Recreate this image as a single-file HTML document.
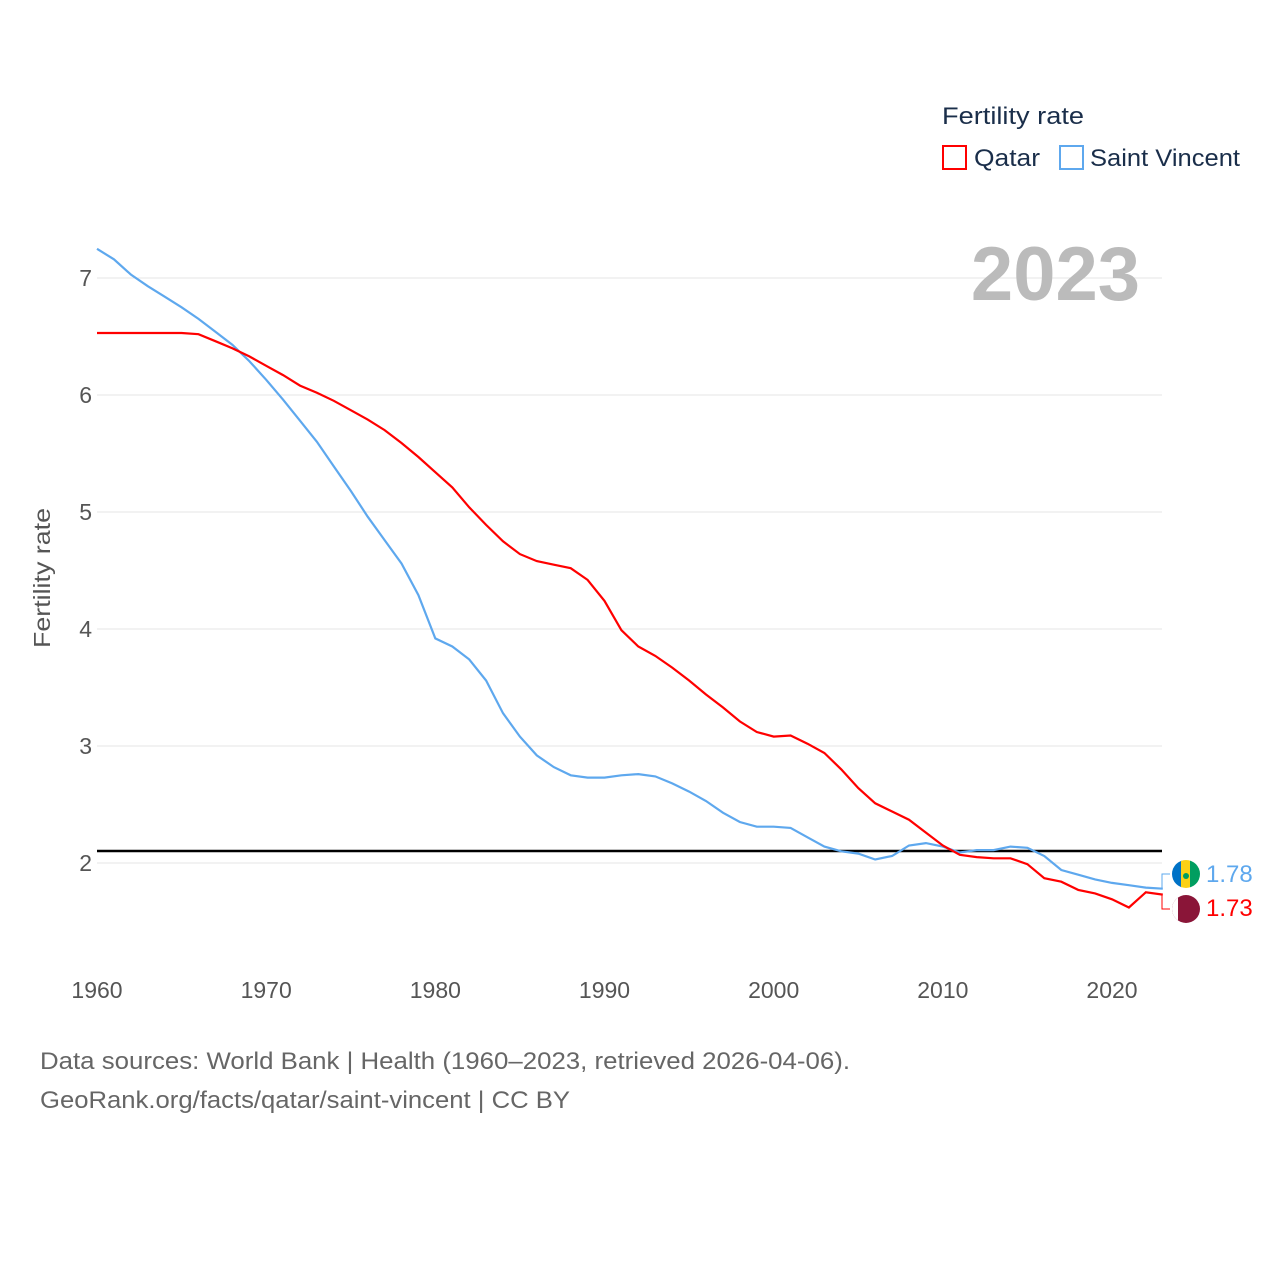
<!DOCTYPE html>
<html><head><meta charset="utf-8"><style>
body{margin:0;background:#fff;width:1280px;height:1280px;overflow:hidden;font-family:"Liberation Sans",sans-serif}
</style></head><body>
<svg width="1280" height="1280">
<g id="grid"></g>
<g id="yt" font-size="23" fill="#555" text-anchor="end"></g>
<g id="xt" font-size="23" fill="#555" text-anchor="middle"></g>
<text transform="translate(50,578) rotate(-90)" text-anchor="middle" font-size="23" fill="#555" textLength="140" lengthAdjust="spacingAndGlyphs">Fertility rate</text>
<text x="1140" y="300" text-anchor="end" font-size="76" font-weight="bold" fill="#bbb">2023</text>
<line x1="97" x2="1162" y1="851" y2="851" stroke="#000" stroke-width="2.5"/>
<path id="sv" fill="none" stroke="#5ea8ee" stroke-width="2.2"/>
<path id="qa" fill="none" stroke="#f00" stroke-width="2.2"/>
<text x="942" y="124" font-size="24" fill="#1a2e4a" textLength="142" lengthAdjust="spacingAndGlyphs">Fertility rate</text>
<rect x="943" y="146" width="23" height="23" fill="none" stroke="#f00" stroke-width="2"/>
<text x="974" y="166" font-size="24" fill="#1a2e4a" textLength="66" lengthAdjust="spacingAndGlyphs">Qatar</text>
<rect x="1060" y="146" width="23" height="23" fill="none" stroke="#5ea8ee" stroke-width="2"/>
<text x="1090" y="166" font-size="24" fill="#1a2e4a" textLength="150" lengthAdjust="spacingAndGlyphs">Saint Vincent</text>
<path d="M1162,888 L1162,874 L1170,874" fill="none" stroke="#5ea8ee"/>
<path d="M1162,895 L1162,909 L1170,909" fill="none" stroke="#f00"/>
<g><clipPath id="c1"><circle cx="1186" cy="874" r="14"/></clipPath><g clip-path="url(#c1)"><rect x="1172" y="860" width="10" height="28" fill="#0072c6"/><rect x="1181" y="860" width="10" height="28" fill="#fcd116"/><rect x="1190" y="860" width="10" height="28" fill="#009e60"/><circle cx="1186" cy="876" r="3" fill="#009e60"/></g></g>
<g><clipPath id="c2"><circle cx="1186" cy="909" r="14"/></clipPath><g clip-path="url(#c2)"><rect x="1172" y="895" width="28" height="28" fill="#8a1538"/><rect x="1172" y="895" width="6" height="28" fill="#fff"/></g></g>
<text x="1206" y="882" font-size="24" fill="#5ea8ee">1.78</text>
<text x="1206" y="916" font-size="24" fill="#f00">1.73</text>
<text x="40" y="1069" font-size="24" fill="#666" textLength="810" lengthAdjust="spacingAndGlyphs">Data sources: World Bank | Health (1960–2023, retrieved 2026-04-06).</text>
<text x="40" y="1108" font-size="24" fill="#666" textLength="530" lengthAdjust="spacingAndGlyphs">GeoRank.org/facts/qatar/saint-vincent | CC BY</text>
</svg>
<script>
const years=[];for(let y=1960;y<=2023;y++)years.push(y);
const qatar=[6.53,6.53,6.53,6.53,6.53,6.53,6.52,6.46,6.40,6.33,6.25,6.17,6.08,6.02,5.95,5.87,5.79,5.70,5.59,5.47,5.34,5.21,5.04,4.89,4.75,4.64,4.58,4.55,4.52,4.42,4.24,3.99,3.85,3.77,3.67,3.56,3.44,3.33,3.21,3.12,3.08,3.09,3.02,2.94,2.80,2.64,2.51,2.44,2.37,2.26,2.15,2.07,2.05,2.04,2.04,1.99,1.87,1.84,1.77,1.74,1.69,1.62,1.75,1.73];
const saintVincent=[7.25,7.16,7.03,6.93,6.84,6.75,6.65,6.54,6.43,6.29,6.13,5.96,5.78,5.60,5.39,5.18,4.96,4.76,4.56,4.29,3.92,3.85,3.74,3.56,3.28,3.08,2.92,2.82,2.75,2.73,2.73,2.75,2.76,2.74,2.68,2.61,2.53,2.43,2.35,2.31,2.31,2.30,2.22,2.14,2.10,2.08,2.03,2.06,2.15,2.17,2.14,2.09,2.11,2.11,2.14,2.13,2.06,1.94,1.90,1.86,1.83,1.81,1.79,1.78];
const yTicks=[2,3,4,5,6,7];
const xTicks=[1960,1970,1980,1990,2000,2010,2020];
const X=v=>97+(v-1960)*(1112-97)/60;
const Y=v=>863-(v-2)*117;
const NS="http://www.w3.org/2000/svg";
const grid=document.getElementById('grid'),yt=document.getElementById('yt'),xt=document.getElementById('xt');
yTicks.forEach(t=>{
 const l=document.createElementNS(NS,'line');
 
 
 l.setAttribute('x1',97);l.setAttribute('x2',1162);l.setAttribute('y1',Y(t));l.setAttribute('y2',Y(t));l.setAttribute('stroke','#e6e6e6');
 grid.appendChild(l);
 const tx=document.createElementNS(NS,'text');
 
 
 tx.setAttribute('x',92);tx.setAttribute('y',Y(t)+8);tx.textContent=t;yt.appendChild(tx);
});
xTicks.forEach(t=>{
 const tx=document.createElementNS(NS,'text');
 
 
 tx.setAttribute('x',X(t));tx.setAttribute('y',998);tx.textContent=t;xt.appendChild(tx);
});
const path=a=>a.map((v,i)=>(i?'L':'M')+X(years[i]).toFixed(1)+','+Y(v).toFixed(1)).join('');
document.getElementById('qa').setAttribute('d',path(qatar));
document.getElementById('sv').setAttribute('d',path(saintVincent));
</script>
</body></html>
